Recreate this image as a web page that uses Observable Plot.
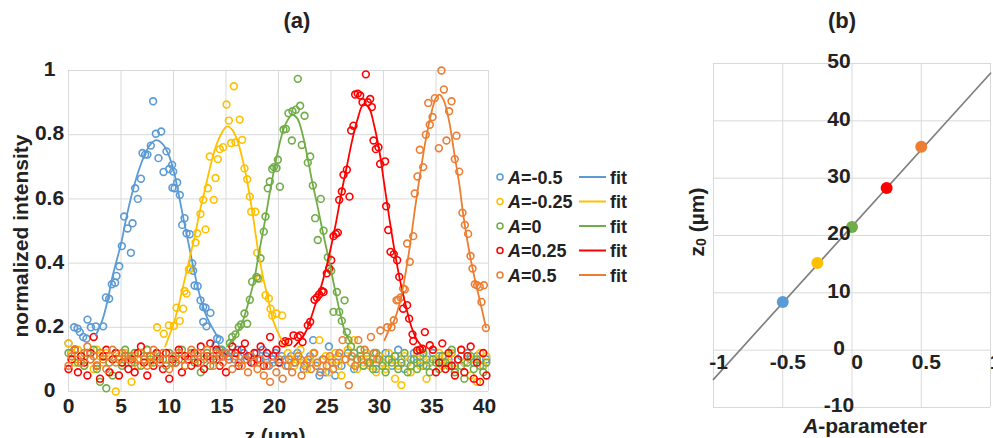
<!DOCTYPE html>
<html><head><meta charset="utf-8">
<script src="https://cdn.jsdelivr.net/npm/d3@7"></script>
<script src="https://cdn.jsdelivr.net/npm/@observablehq/plot@0.6"></script>
<style>
html,body{margin:0;padding:0;background:#fff;}
#wrap{position:relative;width:993px;height:438px;overflow:hidden;background:#fff;font-family:"Liberation Sans",Arial,sans-serif;}
#pa{position:absolute;left:0;top:0;width:500px;height:438px;}
#pb{position:absolute;left:680px;top:0;width:313px;height:438px;}
#ov{position:absolute;left:0;top:0;}
</style></head><body><div id="wrap"><div id="pa"></div><div id="pb"></div></div>
<script>
// ---------- data ----------
const seriesLabels = ["-0.5","-0.25","0","0.25","0.5"];
const seriesColors = ["#5B9BD5","#FFC000","#70AD47","#FF0000","#ED7D31"];
const aParam = [-0.5,-0.25,0,0.25,0.5];
const z0 = [8.4,15.2,21.5,28.3,35.5];
const trendA = [-1, 1];
const trendZ = [-5.1, 48.3];

const xTicksA = [0,5,10,15,20,25,30,35,40];
const yTicksA = [0,0.2,0.4,0.6,0.8,1];
const yTickLabelsA = ["0","0.2","0.4","0.6","0.8","1"];
const xTicksB = [-1,-0.5,0,0.5,1];
const xTickLabelsB = ["-1","-0.5","0","0.5","1"];
const yTicksB = [-10,0,10,20,30,40,50];
const yTickLabelsB = ["-10","0","10","20","30","40","50"];

const baseStep = 0.3;

const bluePeak = [[0,0.15],[0.27,0.12],[0.54,0.2],[0.86,0.196],[1.08,0.185],[1.4,0.17],[1.71,0.165],[1.81,0.224],[2.13,0.2],[2.6,0.203],[3.3,0.203],[3.56,0.293],[3.87,0.289],[4.13,0.334],[4.44,0.339],[4.57,0.36],[4.83,0.39],[5.08,0.453],[5.3,0.545],[5.62,0.508],[5.94,0.432],[6.1,0.524],[6.35,0.633],[6.6,0.6],[6.9,0.663],[7.05,0.743],[7.3,0.738],[7.52,0.738],[7.84,0.766],[8.06,0.904],[8.32,0.803],[8.57,0.727],[8.83,0.81],[9.05,0.684],[9.33,0.748],[9.59,0.693],[9.87,0.706],[9.9,0.635],[9.97,0.685],[10.1,0.633],[10.35,0.651],[10.6,0.612],[10.83,0.519],[11.05,0.54],[11.24,0.493],[11.55,0.49],[11.78,0.399],[11.87,0.376],[12.0,0.33],[12.3,0.328],[12.57,0.284],[12.83,0.263],[12.83,0.217],[13.05,0.261],[13.14,0.203],[13.52,0.245],[14.0,0.144],[14.16,0.165],[14.4,0.161]];
const blueBase = [[14.6,[0.13,0.12,0.11,0.12,0.10,0.13,0.11,0.12,0.10,0.11,
0.09,0.12,0.10,0.13,0.11,0.08,0.10,0.12,0.09,0.11,
0.10,0.08,0.11,0.09,0.12,0.10,0.07,0.09,0.11,0.16,
0.08,0.05,0.10,0.06,0.14,0.09,0.05,0.11,0.08,0.10,
0.12,0.09,0.07,0.10,0.11,0.08,0.12,0.09,0.10,0.07,
0.11,0.09,0.12,0.10,0.08,0.11,0.13,0.10,0.07,0.09,
0.10,0.12,0.09,0.11,0.08,0.10,0.09,0.12,0.10,0.11,
0.09,0.11,0.10,0.12,0.08,0.10,0.11,0.09,0.12,0.10,
0.09,0.11,0.10,0.08,0.10]]];
const blueFit = [[2.6,0.175],[3.2,0.22],[3.7,0.28],[4.2,0.36],[5,0.46],[5.5,0.54],[6,0.61],[6.7,0.69],[7.3,0.74],[7.8,0.77],[8.35,0.783],[9,0.77],[9.5,0.74],[10,0.69],[10.4,0.63],[11,0.53],[11.5,0.45],[12,0.37],[12.5,0.3],[13.2,0.23],[14.2,0.17]];

const yellowPeak = [[8.44,0.2],[9.08,0.18],[9.56,0.206],[10.03,0.204],[10.29,0.261],[10.6,0.22],[10.92,0.258],[11.05,0.313],[11.24,0.305],[11.46,0.38],[11.62,0.383],[12.1,0.464],[12.25,0.493],[12.57,0.553],[12.83,0.597],[13.05,0.505],[13.27,0.633],[13.46,0.732],[13.84,0.597],[14.0,0.665],[14.22,0.724],[14.41,0.755],[14.73,0.761],[15.05,0.894],[15.27,0.844],[15.49,0.774],[15.75,0.951],[15.9,0.776],[16.3,0.847],[16.54,0.784],[16.76,0.695],[17.02,0.661],[17.27,0.607],[17.4,0.56],[17.8,0.56],[17.97,0.432],[18.22,0.352],[18.76,0.3],[19.08,0.29],[19.24,0.258],[19.4,0.237],[19.8,0.243],[20.35,0.237]];
const yellowBase = [[0,[0.15,0.12,0.09,0.13,0.11,0.08,0.12,0.10,0.07,0.13,
0.11,0.09,0.12,0.06,0.10,0.00,0.11,0.09,0.12,0.10,
0.03,0.11,0.08,0.12,0.10,0.13,0.09,0.11]],
[20.6,[0.15,0.12,0.10,0.08,0.11,0.13,0.09,0.07,0.10,0.12,
0.09,0.16,0.08,0.11,0.06,0.10,0.12,0.08,0.05,0.10,
0.13,0.09,0.16,0.07,0.11,0.09,0.12,0.08,0.10,0.06,
0.11,0.09,0.07,0.12,0.10,0.04,0.08,0.02,0.11,0.09,
0.06,0.10,0.12,0.08,0.11,0.04,0.09,0.13,0.10,0.12,
0.08,0.11,0.09,0.12,0.07,0.10,0.13,0.09,0.11,0.05,
0.10,0.03,0.12,0.08,0.11]]];
const yellowFit = [[9.2,0.14],[10,0.21],[10.5,0.27],[11,0.34],[11.5,0.41],[12,0.48],[12.5,0.56],[13,0.63],[13.5,0.7],[14,0.76],[14.5,0.8],[15.1,0.826],[15.6,0.815],[16.1,0.78],[16.6,0.72],[17.1,0.64],[17.6,0.54],[18,0.45],[18.5,0.36],[19,0.29],[19.5,0.22],[20.3,0.16]];

const greenPeak = [[15.37,0.151],[15.59,0.17],[15.9,0.178],[16.22,0.201],[16.44,0.209],[16.76,0.243],[17.02,0.211],[17.27,0.286],[17.49,0.342],[17.9,0.357],[18.03,0.352],[18.29,0.415],[18.6,0.498],[18.76,0.545],[18.98,0.633],[19.17,0.654],[19.4,0.693],[19.56,0.699],[19.81,0.696],[19.94,0.722],[20.13,0.638],[20.48,0.816],[20.7,0.818],[20.95,0.867],[21.27,0.782],[21.33,0.873],[21.65,0.878],[21.84,0.974],[22.06,0.89],[22.22,0.768],[22.48,0.859],[22.79,0.713],[23.02,0.732],[23.27,0.642],[23.49,0.54],[23.74,0.472],[24.03,0.6],[24.29,0.501],[24.7,0.418],[25.02,0.376],[25.24,0.248],[25.56,0.31],[25.78,0.248],[26.03,0.22],[26.29,0.284],[26.51,0.185],[26.67,0.16]];
const greenBase = [[0,[0.12,0.10,0.13,0.09,0.11,0.08,0.12,0.10,0.13,0.07,
0.03,0.11,0.01,0.09,0.05,0.12,0.10,0.08,0.13,0.11,
0.09,0.12,0.10,0.08,0.11,0.13,0.10,0.09,0.12,0.11,
0.10,0.08,0.12,0.09,0.11,0.10,0.13,0.08,0.10,0.12,
0.09,0.11,0.06,0.10,0.12,0.08,0.11,0.10,0.13,0.12]],
[26.9,[0.14,0.12,0.10,0.13,0.08,0.11,0.09,0.07,0.12,0.10,
0.08,0.06,0.10,0.09,0.11,0.07,0.09,0.12,0.06,0.08,
0.10,0.07,0.09,0.12,0.08,0.06,0.10,0.09,0.07,0.11,
0.09,0.08,0.13,0.06,0.10,0.08,0.04,0.09,0.11,0.07,
0.10,0.08,0.06,0.09]]];
const greenFit = [[15.1,0.14],[16,0.18],[16.6,0.22],[17.2,0.285],[17.7,0.35],[18.1,0.425],[18.7,0.53],[19.2,0.625],[19.7,0.71],[20.2,0.785],[20.7,0.835],[21.3,0.862],[21.8,0.85],[22.3,0.8],[22.7,0.74],[23.2,0.655],[23.7,0.58],[24.2,0.5],[24.8,0.41],[25.3,0.33],[25.9,0.24],[26.4,0.18],[26.9,0.15]];

const redPeak = [[20.63,0.157],[20.95,0.154],[21.43,0.175],[21.84,0.17],[22.06,0.175],[22.29,0.154],[22.79,0.206],[23.02,0.217],[23.43,0.286],[23.65,0.293],[23.87,0.302],[24.13,0.313],[24.29,0.31],[24.6,0.368],[24.83,0.383],[25.02,0.409],[25.24,0.484],[25.46,0.491],[25.65,0.495],[25.78,0.597],[26.03,0.623],[26.19,0.675],[26.51,0.691],[26.76,0.607],[26.92,0.813],[27.14,0.828],[27.3,0.925],[27.55,0.928],[27.78,0.922],[28.0,0.901],[28.32,0.988],[28.5,0.901],[28.73,0.911],[28.89,0.886],[29.05,0.782],[29.27,0.755],[29.52,0.761],[29.68,0.709],[30.15,0.717],[30.25,0.577],[30.45,0.503],[30.67,0.435],[30.98,0.428],[31.3,0.409],[31.5,0.357],[31.87,0.258],[32.25,0.269],[32.44,0.227],[32.76,0.178],[32.83,0.157],[33.21,0.128],[33.46,0.13],[33.71,0.133],[33.94,0.185],[34.41,0.144]];
const redBase = [[0,[0.07,0.10,0.13,0.06,0.11,0.09,0.05,0.12,0.17,0.08,
0.04,0.11,0.13,0.06,0.10,0.12,0.05,0.09,0.11,0.07,
0.10,0.06,0.12,0.14,0.09,0.05,0.11,0.08,0.12,0.10,
0.07,0.12,0.04,0.10,0.09,0.13,0.06,0.11,0.10,0.08,
0.12,0.09,0.14,0.07,0.11,0.15,0.10,0.13,0.08,0.11,
0.06,0.10,0.14,0.12,0.08,0.13,0.15,0.11,0.09,0.12,
0.10,0.14,0.08,0.12,0.17,0.11,0.13,0.09,0.15]],
[34.7,[0.13,0.06,0.09,0.15,0.07,0.12,0.08,0.05,0.10,0.13,0.06,0.11,0.14,0.04,0.09,0.03,0.12,0.05]]];
const redFit = [[21.5,0.14],[22.5,0.18],[23,0.22],[23.5,0.27],[24,0.32],[24.5,0.38],[25,0.45],[25.5,0.53],[26,0.62],[26.5,0.7],[27,0.78],[27.5,0.845],[28.1,0.895],[28.6,0.885],[29.1,0.83],[29.6,0.75],[30.1,0.64],[30.6,0.53],[31.1,0.43],[31.55,0.35],[32.1,0.27],[32.67,0.2],[33.2,0.16],[33.8,0.135]];

const orangePeak = [[30.35,0.2],[30.76,0.2],[30.98,0.222],[31.24,0.284],[31.4,0.286],[31.62,0.293],[31.87,0.321],[32.03,0.318],[32.25,0.461],[32.5,0.404],[32.83,0.484],[32.98,0.617],[33.24,0.67],[33.46,0.753],[33.78,0.699],[34.03,0.8],[34.26,0.899],[34.41,0.831],[34.67,0.855],[34.89,0.914],[35.27,0.758],[35.52,1.0],[35.75,0.941],[36.0,0.782],[36.25,0.873],[36.48,0.904],[36.79,0.724],[36.95,0.797],[37.21,0.685],[37.52,0.557],[37.75,0.519],[38.06,0.491],[38.29,0.422],[38.48,0.383],[38.7,0.334],[38.92,0.331],[39.17,0.326],[39.33,0.279],[39.56,0.331],[39.75,0.198]];
const orangeBase = [[0,[0.08,0.11,0.13,0.10,0.09,0.12,0.14,0.10,0.11,0.08,
0.12,0.10,0.07,0.11,0.13,0.09,0.10,0.12,0.11,0.10,
0.11,0.09,0.10,0.12,0.10,0.08,0.11,0.13,0.10,0.09,
0.12,0.10,0.07,0.11,0.09,0.12,0.10,0.08,0.11,0.13,
0.10,0.12,0.09,0.11,0.13,0.10,0.08,0.12,0.11,0.09,
0.12,0.10,0.07,0.11,0.09,0.08,0.10,0.06,0.11,0.09,
0.07,0.10,0.05,0.08,0.03,0.09,0.06,0.10,0.04,0.08,
0.10,0.06,0.09,0.11,0.05,0.08,0.10,0.07,0.12,0.09,
0.06,0.10,0.08,0.11,0.07,0.09,0.12,0.16,0.10,0.02,
0.11,0.08,0.16,0.10,0.13,0.09,0.17,0.12,0.10,0.19]]];
const orangeFit = [[30.1,0.16],[30.5,0.19],[31,0.22],[31.5,0.27],[32,0.35],[32.5,0.45],[33,0.57],[33.5,0.68],[34,0.78],[34.5,0.86],[35,0.915],[35.3,0.925],[35.7,0.91],[36.2,0.85],[36.8,0.73],[37.2,0.65],[37.6,0.55],[38.2,0.43],[38.7,0.35],[39.2,0.28],[39.75,0.2]];

// ---------- build tables ----------
const peaks = [bluePeak, yellowPeak, greenPeak, redPeak, orangePeak];
const bases = [blueBase, yellowBase, greenBase, redBase, orangeBase];
const fits = [blueFit, yellowFit, greenFit, redFit, orangeFit];
function buildRows(peak, base) {
  const out = peak.map(([z, I]) => ({z, I}));
  for (const [start, vals] of base) vals.forEach((v, j) => out.push({z: +(start + j * baseStep).toFixed(2), I: v}));
  return out;
}
const rowsBySeries = peaks.map((p, i) => buildRows(p, bases[i]));

const FONT = "'Liberation Sans', Arial, Helvetica, sans-serif";
const TXT = "#222";

// ---------- panel (a) ----------
const plotA = Plot.plot({
  width: 500, height: 438,
  marginLeft: 68, marginRight: 12, marginTop: 70, marginBottom: 47,
  x: {domain: [0, 40], axis: null},
  y: {domain: [0, 1], axis: null},
  style: {fontFamily: FONT, fontWeight: "bold", color: TXT, background: "transparent", overflow: "visible"},
  marks: [
    Plot.ruleX(xTicksA, {x: d => d, stroke: "#d9d9d9", strokeWidth: 1}),
    Plot.ruleY(yTicksA, {y: d => d, stroke: "#d9d9d9", strokeWidth: 1}),
    ...rowsBySeries.map((rows, i) => Plot.dot(rows, {x: "z", y: "I", r: 3.4, stroke: seriesColors[i], strokeWidth: 1.6, fill: "none"})),
    ...fits.map((f, i) => Plot.line(f, {x: d => d[0], y: d => d[1], stroke: seriesColors[i], strokeWidth: 1.8, curve: "catmull-rom"})),
    Plot.text(xTicksA.filter(d => d < 10), {x: d => d, frameAnchor: "bottom", dy: 21, text: d => String(d), fontSize: 21, fontWeight: "bold", fill: TXT}),
    Plot.text(xTicksA.filter(d => d >= 10), {x: d => d, frameAnchor: "bottom", dy: 21, dx: -4, text: d => String(d), fontSize: 21, fontWeight: "bold", fill: TXT}),
    Plot.text(yTicksA, {y: d => d, frameAnchor: "left", dx: -19, dy: -1, text: (d, i) => yTickLabelsA[i], textAnchor: "middle", fontSize: 21, fontWeight: "bold", fill: TXT})
  ]
});
document.getElementById("pa").appendChild(plotA);

// ---------- panel (b) ----------
const trend = trendA.map((a, i) => ({a, z: trendZ[i]}));
const ptsB = aParam.map((a, i) => ({a, z: z0[i], c: seriesColors[i]}));
const plotB = Plot.plot({
  width: 313, height: 438,
  marginLeft: 33, marginRight: 3, marginTop: 63, marginBottom: 31,
  x: {domain: [-1, 1], axis: null},
  y: {domain: [-10, 50], axis: null},
  style: {fontFamily: FONT, fontWeight: "bold", color: TXT, background: "transparent", overflow: "visible"},
  marks: [
    Plot.ruleX(xTicksB, {x: d => d, stroke: "#d9d9d9", strokeWidth: 1}),
    Plot.ruleY(yTicksB, {y: d => d, stroke: "#d9d9d9", strokeWidth: 1}),
    Plot.line(trend, {x: "a", y: "z", stroke: "#7f7f7f", strokeWidth: 1.7}),
    ...ptsB.map(p => Plot.dot([p], {x: "a", y: "z", r: 6, fill: p.c, stroke: "none"})),
    Plot.text(xTicksB, {x: d => d, y: d => 0, dy: 12, dx: 5, text: (d, i) => xTickLabelsB[i], fontSize: 21, fontWeight: "bold", fill: TXT}),
    Plot.text(yTicksB, {x: d => 0, y: d => d, dx: -13, dy: -2, text: (d, i) => yTickLabelsB[i], textAnchor: "middle", fontSize: 21, fontWeight: "bold", fill: TXT})
  ]
});
document.getElementById("pb").appendChild(plotB);

// ---------- titles, axis labels, legend ----------
const ov = d3.select("#wrap").append("svg").attr("id", "ov")
  .attr("width", 993).attr("height", 438)
  .style("font-family", FONT).style("font-weight", "bold").attr("fill", TXT);

ov.append("text").attr("x", 297).attr("y", 28).attr("text-anchor", "middle").attr("font-size", 22).text("(a)");
ov.append("text").attr("x", 842).attr("y", 28).attr("text-anchor", "middle").attr("font-size", 22).text("(b)");

ov.append("text").attr("transform", "translate(28,236) rotate(-90)").attr("text-anchor", "middle")
  .attr("font-size", 21).text("normalized intensity");
ov.append("text").attr("x", 275).attr("y", 443).attr("text-anchor", "middle").attr("font-size", 21).text("z (µm)");

const yl = ov.append("text").attr("transform", "translate(704,222) rotate(-90)").attr("text-anchor", "middle").attr("font-size", 21);
yl.append("tspan").text("z");
yl.append("tspan").attr("font-size", 14).attr("dy", 2).text("0");
yl.append("tspan").attr("dy", -2).text(" (µm)");

const xl = ov.append("text").attr("x", 865).attr("y", 433).attr("text-anchor", "middle").attr("font-size", 21);
xl.append("tspan").attr("font-style", "italic").text("A");
xl.append("tspan").text("-parameter");

const legendY = [177, 201.5, 226, 250.5, 275];
seriesLabels.forEach((lab, i) => {
  const y = legendY[i];
  ov.append("circle").attr("cx", 500).attr("cy", y).attr("r", 3).attr("fill", "none")
    .attr("stroke", seriesColors[i]).attr("stroke-width", 1.5);
  const t = ov.append("text").attr("x", 508).attr("y", y + 6.5).attr("font-size", 18);
  t.append("tspan").attr("font-style", "italic").text("A");
  t.append("tspan").text("=" + lab);
  ov.append("line").attr("x1", 579).attr("x2", 606).attr("y1", y).attr("y2", y)
    .attr("stroke", seriesColors[i]).attr("stroke-width", 2);
  ov.append("text").attr("x", 610).attr("y", y + 6.5).attr("font-size", 18).text("fit");
});
</script>
</body></html>
